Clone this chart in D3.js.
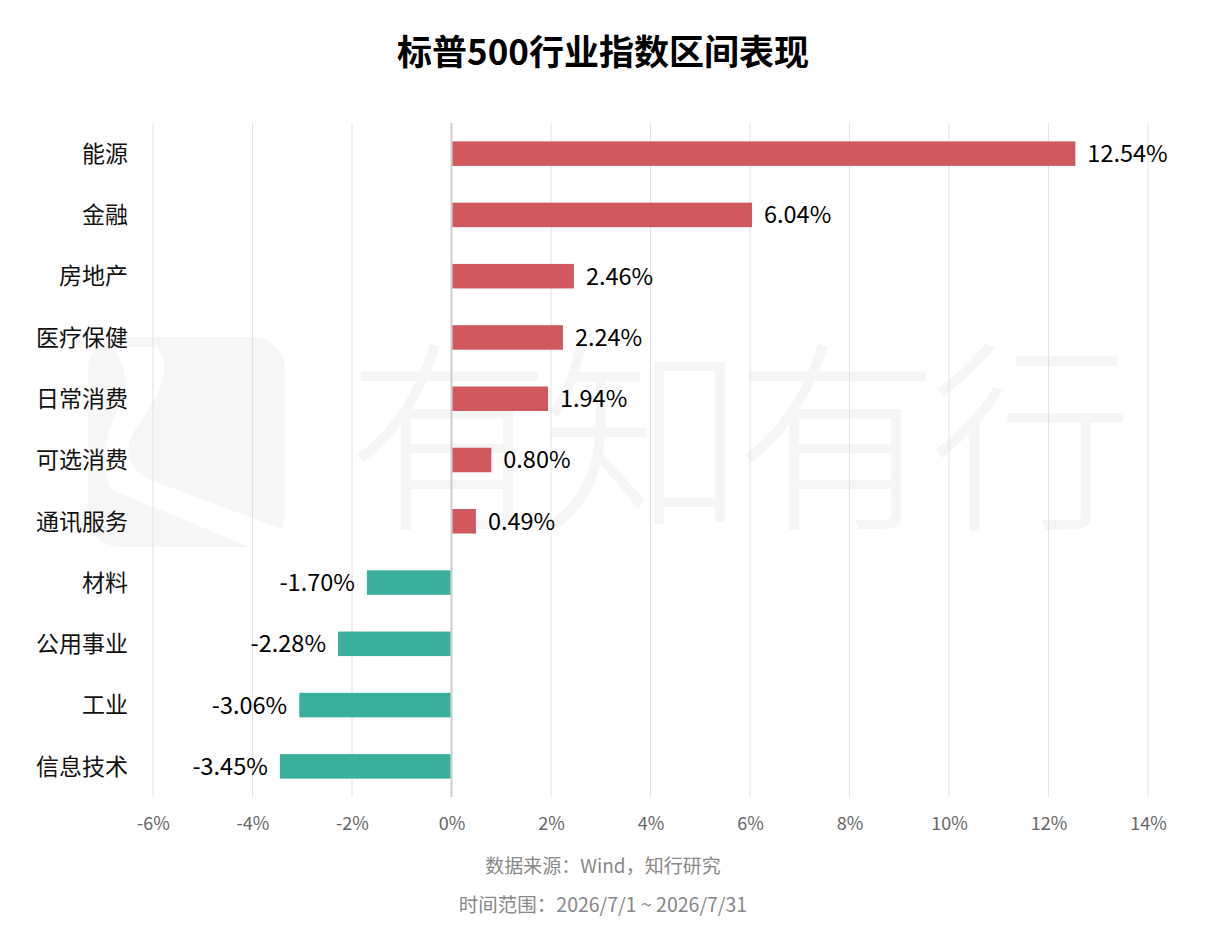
<!DOCTYPE html>
<html>
<head>
<meta charset="utf-8">
<script src="https://cdn.jsdelivr.net/npm/d3@7"></script>
<style>
  body { margin: 0; background: #fff; }
  text { font-family: "Noto Sans CJK SC", "Noto Sans", sans-serif; }
</style>
</head>
<body>
<svg id="chart" width="1206" height="930"></svg>
<script>
// data
var sectors = ["能源", "金融", "房地产", "医疗保健", "日常消费", "可选消费", "通讯服务", "材料", "公用事业", "工业", "信息技术"];
var changes = [12.54, 6.04, 2.46, 2.24, 1.94, 0.80, 0.49, -1.70, -2.28, -3.06, -3.45];
var xTicks  = [-6, -4, -2, 0, 2, 4, 6, 8, 10, 12, 14];

var title   = "标普500行业指数区间表现";
var source  = "数据来源：Wind，知行研究";
var period  = "时间范围：2026/7/1 ~ 2026/7/31";

var svg = d3.select("#chart");
var svg_width  = +svg.attr("width");
var svg_height = +svg.attr("height");

var margin = {left: 153, right: 58, top: 123, bottom: 133},
    width  = svg_width  - margin.left - margin.right,
    height = svg_height - margin.top  - margin.bottom;

var data = sectors.map(function(d, i){ return {name: d, value: changes[i]}; });

var xAxis = d3.scaleLinear().domain([-6, 14]).range([0, width]);
var yAxis = d3.scaleBand().domain(sectors).range([0, height]).paddingInner(0.6).paddingOuter(0.3);

// watermark
var wm = svg.append("g").attr("class", "watermark");
wm.append("rect")
    .attr("x", 88).attr("y", 337).attr("width", 197).attr("height", 210)
    .attr("rx", 32).attr("fill", "#f6f6f6");
wm.append("path")
    .attr("d", "M112,347 L158,347 C172,370 160,395 138,425 C122,448 126,468 150,480 L285,530 L285,547 L250,547 L112,490 C100,470 102,440 118,410 C130,390 128,368 112,347 Z")
    .attr("fill", "#fff");
wm.append("text")
    .attr("x", 735).attr("y", 515)
    .attr("text-anchor", "middle")
    .attr("font-size", 204)
    .attr("font-weight", 300)
    .attr("letter-spacing", -10)
    .attr("fill", "#f5f5f5")
    .text("有知有行");

var g = svg.append("g")
    .attr("transform", "translate(" + margin.left + "," + margin.top + ")");

// grid lines
g.selectAll(".grid")
    .data(xTicks)
    .enter()
    .append("line")
      .attr("x1", function(d){ return xAxis(d); })
      .attr("x2", function(d){ return xAxis(d); })
      .attr("y1", 0)
      .attr("y2", height)
      .attr("stroke", function(d){ return d === 0 ? "#cccccc" : "#e2e2e2"; })
      .attr("stroke-width", function(d){ return d === 0 ? 2 : 1; });

// tick labels
g.append("g")
    .attr("transform", "translate(0," + height + ")")
    .call(d3.axisBottom(xAxis).tickValues(xTicks).tickSize(0).tickPadding(20)
        .tickFormat(function(d){ return d + "%"; }))
    .call(function(a){ a.select(".domain").remove(); })
    .selectAll("text")
      .attr("font-family", "\"Noto Sans\", sans-serif")
      .attr("font-size", 18)
      .attr("fill", "#666");

// bars
g.selectAll(".bar")
    .data(data)
    .enter()
    .append("rect")
      .attr("x", function(d){ return d.value >= 0 ? xAxis(0) + 1 : xAxis(d.value); })
      .attr("y", function(d){ return yAxis(d.name); })
      .attr("width", function(d){ return Math.abs(xAxis(d.value) - xAxis(0)) - 1; })
      .attr("height", yAxis.bandwidth())
      .attr("fill", function(d){ return d.value >= 0 ? "#cf595c" : "#3aaf9b"; });

// value labels
g.selectAll(".val")
    .data(data)
    .enter()
    .append("text")
      .attr("x", function(d){ return xAxis(d.value) + (d.value >= 0 ? 12 : -12); })
      .attr("y", function(d){ return yAxis(d.name) + yAxis.bandwidth() / 2; })
      .attr("dy", "0.36em")
      .attr("text-anchor", function(d){ return d.value >= 0 ? "start" : "end"; })
      .attr("font-family", "\"Noto Sans\", sans-serif")
      .attr("font-size", 23.5)
      .attr("fill", "#000")
      .text(function(d){ return d.value.toFixed(2) + "%"; });

// category labels
g.selectAll(".cat")
    .data(data)
    .enter()
    .append("text")
      .attr("x", -25)
      .attr("y", function(d){ return yAxis(d.name) + yAxis.bandwidth() / 2; })
      .attr("dy", "0.36em")
      .attr("text-anchor", "end")
      .attr("font-size", 23)
      .attr("fill", "#111")
      .text(function(d){ return d.name; });

// title and notes
svg.append("text")
    .attr("x", svg_width / 2).attr("y", 65)
    .attr("text-anchor", "middle")
    .attr("font-size", 35)
    .attr("font-weight", "bold")
    .attr("fill", "#000")
    .text(title);

svg.append("text")
    .attr("x", svg_width / 2).attr("y", 873)
    .attr("text-anchor", "middle")
    .attr("font-size", 19)
    .attr("fill", "#888")
    .text(source);

svg.append("text")
    .attr("x", svg_width / 2).attr("y", 912)
    .attr("text-anchor", "middle")
    .attr("font-size", 19.5)
    .attr("fill", "#888")
    .text(period);
</script>
</body>
</html>
